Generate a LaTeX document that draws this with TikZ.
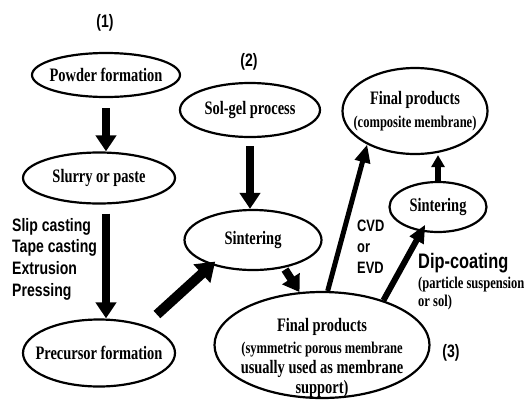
\documentclass[tikz,border=0pt]{standalone}
\usepackage{fontspec}
\setmainfont{Liberation Serif}
\newfontfamily\stagefont{Liberation Serif}[FakeStretch=0.76]
\newfontfamily\notefont{Liberation Sans}[FakeStretch=0.78]
\usetikzlibrary{arrows.meta,shapes.geometric}

\begin{document}
\begin{tikzpicture}[x=1pt, y=-1pt,
    stage/.style={ellipse, draw, line width=2.2pt, inner sep=0pt},
    stagetext/.style={align=center, inner sep=0pt,
      font=\stagefont\bfseries\fontsize{19}{20}\selectfont},
    subtext/.style={font=\stagefont\bfseries\fontsize{16.5}{18}\selectfont},
    note/.style={align=left, inner sep=0pt, anchor=north west,
      font=\notefont\bfseries\fontsize{18}{21.7}\selectfont},
    flow/.style={line width=8pt, -{Triangle[length=16pt, width=20pt]}},
    thinflow/.style={line width=6pt, -{Triangle[length=18pt, width=15pt]}}]
\useasboundingbox (0,0) rectangle (529,399);

% Route (1)
\node[note, anchor=center] (one) at (105,23) {(1)};
\node[stage, minimum width=148, minimum height=44] (powder) at (106,75) {};
\node[stagetext] (powdertxt) at (powder) {Powder formation};
\node[stage, minimum width=152, minimum height=51] (slurry) at (99,178) {};
\node[stagetext] (slurrytxt) at (slurry) {Slurry or paste};
\node[stage, minimum width=152, minimum height=67] (precursor) at (99,353) {};
\node[stagetext] (precursortxt) at (precursor) {Precursor formation};
\node[note] (shaping) at (12,218) {Slip casting\\Tape casting\\Extrusion\\Pressing};

% Route (2)
\node[note, anchor=center] (two) at (249,62) {(2)};
\node[stage, minimum width=140, minimum height=54] (solgel) at (250,110) {};
\node[stagetext] (solgeltxt) at (solgel) {Sol-gel process};
\node[stage, minimum width=137, minimum height=60] (sinter) at (253,240) {};
\node[stagetext] (sintertxt) at (sinter) {Sintering};

% Route (3)
\node[stage, minimum width=215, minimum height=106] (support) at (322,345) {};
\node[stagetext] (supporttxt) at ([yshift=-13pt]support.center)
  {Final products\\[2pt]\fontsize{16.5}{20}\selectfont (symmetric porous membrane\\usually used as membrane\\support)};
\node[stage, minimum width=97, minimum height=50] (resinter) at (438,207) {};
\node[stagetext] (resintertxt) at (resinter) {Sintering};
\node[stage, minimum width=145, minimum height=86] (composite) at (415,111) {};
\node[stagetext] (compositetxt) at (composite)
  {Final products\\[3pt]\fontsize{16.5}{18}\selectfont (composite membrane)};
\node[note, anchor=center] (three) at (451,353) {(3)};
\node[note, font=\notefont\bfseries\fontsize{16.5}{21}\selectfont] (cvd) at (357,220) {CVD\\or\\EVD};
\node[note, font=\notefont\bfseries\fontsize{21}{22}\selectfont] (dip) at (418,253) {Dip-coating};
\node[note, subtext] (dipsub) at (418,277) {(particle suspension\\or sol)};

% Arrows
\draw[flow, shorten <=10pt] (powder.south) -- (powder.south |- slurry.north);
\draw[flow, shorten <=9pt] (slurry.south -| powder.south) -- (precursor.north -| powder.south);
\draw[flow, shorten <=8pt] (solgel.south) -- (solgel.south |- sinter.north);
\draw[flow, line width=10pt, -{Triangle[length=18pt, width=24pt]}, shorten <=16pt, shorten >=-5pt]
  (precursor.31) -- (sinter.211);
\draw[flow, shorten <=2pt] (sinter.-42) -- (support.113);
\draw[thinflow, line width=5pt] (support.84) -- (composite.215);
\draw[thinflow, shorten >=-8pt] (support.36) -- (resinter.236);
\draw[thinflow, -{Triangle[length=12pt, width=13pt]}] (resinter.north) -- (resinter.north |- composite.south);
\end{tikzpicture}
\end{document}
